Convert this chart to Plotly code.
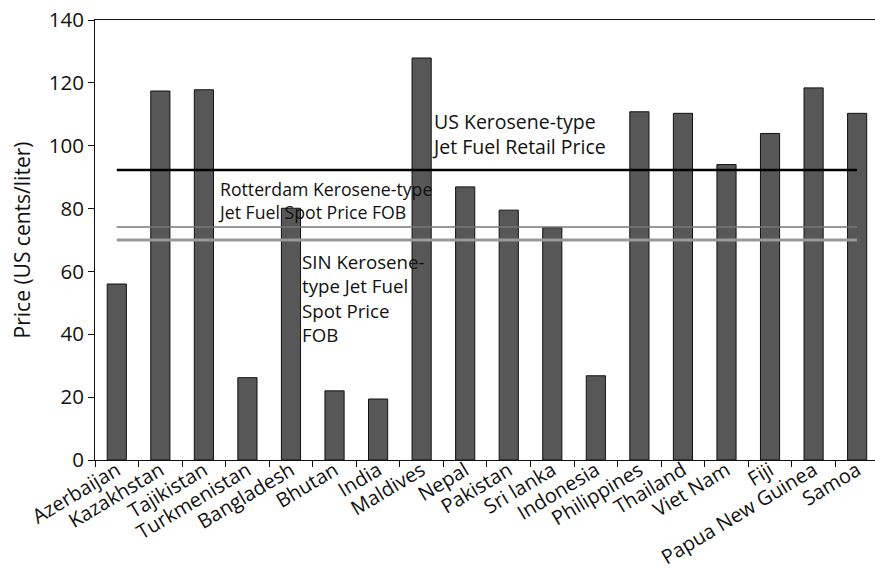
import plotly.graph_objects as go

countries = ["Azerbaijan", "Kazakhstan", "Tajikistan", "Turkmenistan", "Bangladesh",
             "Bhutan", "India", "Maldives", "Nepal", "Pakistan", "Sri lanka",
             "Indonesia", "Philippines", "Thailand", "Viet Nam", "Fiji",
             "Papua New Guinea", "Samoa"]
prices = [56.0, 117.4, 117.8, 26.2, 80.1, 22.0, 19.4, 127.9, 86.9, 79.5, 73.9,
          26.8, 110.8, 110.3, 94.0, 103.9, 118.4, 110.3]

us_retail = 92.3
rotterdam_spot = 74.1
sin_spot = 70.0

y_ticks = [0, 20, 40, 60, 80, 100, 120, 140]

FONT = "Open Sans"
INK = "#111111"

fig = go.Figure()
fig.add_trace(go.Bar(
    x=countries, y=prices,
    marker=dict(color="#575757", line=dict(color=INK, width=1)),
    width=0.44, showlegend=False,
))
fig.add_trace(go.Scatter(
    x=countries, y=[rotterdam_spot] * len(countries), mode="lines",
    line=dict(color="#777777", width=1.5), showlegend=False,
))
fig.add_trace(go.Scatter(
    x=countries, y=[sin_spot] * len(countries), mode="lines",
    line=dict(color="#999999", width=3), showlegend=False,
))
fig.add_trace(go.Scatter(
    x=countries, y=[us_retail] * len(countries), mode="lines",
    line=dict(color="#000000", width=2.5), showlegend=False,
))

fig.add_annotation(x=7.2, y=103.6, xref="x", yref="y", xanchor="left", yanchor="middle",
                   text="US Kerosene-type<br>Jet Fuel Retail Price", showarrow=False,
                   align="left", font=dict(family=FONT, size=19.5, color=INK))
fig.add_annotation(x=2.27, y=82.6, xref="x", yref="y", xanchor="left", yanchor="middle",
                   text="Rotterdam Kerosene-type<br>Jet Fuel Spot Price FOB", showarrow=False,
                   align="left", font=dict(family=FONT, size=17.7, color=INK))
fig.add_annotation(x=4.21, y=51.6, xref="x", yref="y", xanchor="left", yanchor="middle",
                   text="SIN Kerosene-<br>type Jet Fuel<br>Spot Price<br>FOB", showarrow=False,
                   align="left", font=dict(family=FONT, size=18.7, color=INK))

fig.update_layout(
    width=875, height=572,
    margin=dict(l=95, r=0, t=20, b=112, autoexpand=False),
    paper_bgcolor="white", plot_bgcolor="white",
    font=dict(family=FONT, size=18, color=INK),
    showlegend=False,
)
fig.update_xaxes(
    type="category", range=[-0.5, 17.41], automargin=False,
    showline=True, linecolor=INK, linewidth=1, mirror=True,
    ticks="outside", tickson="boundaries", ticklen=6, tickcolor=INK,
    tickangle=-31, tickfont=dict(family=FONT, size=20, color=INK),
    ticklabelstandoff=-10, ticklabeloverflow="allow",
    showgrid=False, zeroline=False,
)
fig.update_yaxes(
    range=[0, 140], tickvals=y_ticks, automargin=False,
    showline=True, linecolor=INK, linewidth=1,
    ticks="outside", ticklen=6, tickcolor=INK,
    tickfont=dict(family=FONT, size=20.5, color=INK),
    ticklabeloverflow="allow",
    title=dict(text="Price (US cents/liter)", font=dict(family=FONT, size=21, color=INK), standoff=12),
    showgrid=False, zeroline=False,
)

fig.write_html("out.html", config={"displayModeBar": False},
               post_script="document.body.style.margin='0';document.body.style.overflow='hidden';")
